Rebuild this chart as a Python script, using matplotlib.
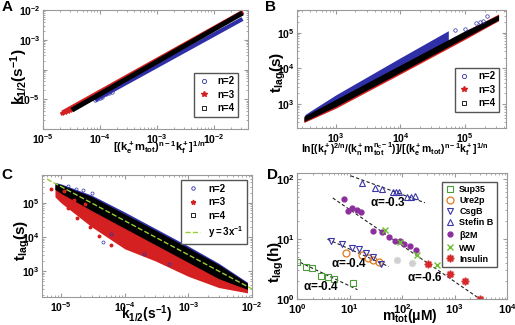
import matplotlib
matplotlib.use('Agg')
import matplotlib.pyplot as plt
from matplotlib.lines import Line2D

plt.rcParams['font.family'] = ['Liberation Sans', 'DejaVu Sans']
plt.rcParams['font.weight'] = 'bold'
plt.rcParams['mathtext.fontset'] = 'custom'
plt.rcParams['mathtext.rm'] = 'Liberation Sans:bold'
plt.rcParams['mathtext.bf'] = 'Liberation Sans:bold'
plt.rcParams['mathtext.it'] = 'Liberation Sans:bold'
plt.rcParams['mathtext.default'] = 'bf'

BLUE = '#2f2fa8'
RED = '#d42020'
BLACK = '#000000'

# ---- panel A: k1/2 vs scaling variable (dense bands)
a_n2_x = [8.2e-5, 3.2e-2]
a_n2_y = [9.4e-6, 5.0e-3]
a_n2_sparse_x = [8.2e-5, 9.0e-5, 1.0e-4, 1.1e-4, 1.3e-4, 1.45e-4, 1.6e-4]
a_n2_sparse_y = [9.4e-6, 1.02e-5, 1.13e-5, 1.23e-5, 1.45e-5, 1.6e-5, 1.77e-5]
a_n3_x = [2.2e-5, 3.3e-2]
a_n3_y = [3.5e-6, 8.6e-3]
a_n3_sparse_x = [2.2e-5, 2.4e-5, 2.7e-5, 3.0e-5]
a_n3_sparse_y = [3.4e-6, 3.6e-6, 4.0e-6, 4.4e-6]
a_n4_x = [3.2e-5, 3.2e-2]
a_n4_y = [4.3e-6, 7.9e-3]

# ---- panel B: t_lag vs scaling variable (band envelopes)
b_x = [3.2e2, 1e3, 1e4, 1e5, 3.3e5]
b_n4_lo = [3.2e2, 8.5e2, 7.8e3, 7.3e4, 2.3e5]
b_n4_hi = [4.5e2, 1.35e3, 1.25e4, 1.15e5, 3.2e5]
b_n3_lo = [3.0e2, 7.6e2, 7.0e3, 6.6e4, 2.2e5]
b_n3_hi = [4.2e2, 1.25e3, 1.15e4, 1.1e5, 3.4e5]
b_n2_x = [3.3e2, 1e3, 1e4, 5.5e4]
b_n2_lo = [3.6e2, 1.0e3, 9.5e3, 5.0e4]
b_n2_hi = [5.0e2, 1.8e3, 2.0e4, 1.15e5]
b_n2_sparse_x = [7e4, 1e5, 1.5e5, 1.7e5, 1.9e5, 2.2e5]
b_n2_sparse_y = [1.2e5, 1.3e5, 1.9e5, 2.0e5, 2.1e5, 2.9e5]

# ---- panel C: t_lag vs k1/2 (band envelopes plus loose points)
c_x = [8e-6, 1e-5, 3e-5, 1e-4, 3e-4, 1e-3, 3e-3, 8.5e-3]
c_n2_lo = [2.5e5, 2.0e5, 7.0e4, 2.0e4, 6.0e3, 1.9e3, 6.5e2, 3.0e2]
c_n2_hi = [4.0e5, 3.6e5, 1.7e5, 5.4e4, 1.8e4, 5.4e3, 1.7e3, 4.7e2]
c_n3_lo = [1.5e5, 1.0e5, 2.0e4, 4.5e3, 2.0e3, 7.0e2, 3.3e2, 2.3e2]
c_n3_hi = [3.0e5, 2.7e5, 1.0e5, 3.0e4, 1.0e4, 3.0e3, 1.0e3, 3.8e2]
c_n4_lo = [2.5e5, 1.9e5, 6.0e4, 1.8e4, 6.0e3, 1.8e3, 6.0e2, 2.9e2]
c_n4_hi = [3.8e5, 3.4e5, 1.55e5, 4.7e4, 1.6e4, 4.8e3, 1.55e3, 4.4e2]
c_n3_pts_x = [7e-6, 9e-6, 1.1e-5, 1.3e-5, 1.6e-5, 2.0e-5, 2.4e-5, 1.2e-5, 1.8e-5, 2.8e-5, 4.0e-5, 6.0e-5]
c_n3_pts_y = [2.6e5, 1.6e5, 2.2e5, 7.0e4, 1.2e5, 5.0e4, 9.0e4, 1.3e5, 3.5e4, 2.0e4, 1.1e4, 6.0e3]
c_n2_pts_x = [1.3e-5, 1.7e-5, 2.2e-5, 3.0e-5, 4.5e-5, 6.0e-5, 2.0e-4, 5.0e-4]
c_n2_pts_y = [3.2e5, 2.6e5, 2.4e5, 2.0e5, 7.0e3, 1.2e4, 3.2e3, 1.6e3]
c_fit_x = [6e-6, 1e-2]
c_fit_y = [5e5, 300]

# ---- panel D: experimental lag times
sup35_m = [1.0, 1.46, 1.89, 2.9, 3.9, 5.0, 11.8]
sup35_t = [4.2, 3.4, 3.25, 2.46, 2.31, 2.14, 1.88]
ure2p_m = [8.6, 17.6, 22.7, 28.0, 36.0]
ure2p_t = [5.9, 5.3, 4.9, 4.5, 4.15]
csgb_m = [4.35, 7.3, 11.3, 15.2, 20.6, 27.9, 39.5]
csgb_t = [9.4, 8.1, 7.1, 6.7, 5.75, 4.95, 3.8]
stefin_m = [17.6, 31.0, 41.0, 67.0, 77.0, 88.0, 125.0, 150.0, 175.0]
stefin_t = [85.0, 71.0, 69.0, 61.0, 61.0, 60.0, 50.0, 49.0, 52.0]
b2m_m = [7.7, 9.2, 11.4, 13.6, 16.4, 27.9, 41.2, 55.7, 72.3, 89.7, 111.0, 144.0, 187.0]
b2m_t = [46.7, 29.3, 33.2, 30.4, 28.1, 13.8, 12.8, 10.6, 9.4, 9.1, 8.1, 7.5, 6.45]
ww_m = [46.9, 92.5, 191.0, 464.0]
ww_t = [14.2, 8.75, 5.5, 3.75]
insulin_m = [315.0, 804.0, 1578.0, 3070.0]
insulin_t = [3.79, 2.59, 1.96, 1.0]
grey_m = [80.0, 158.0]
grey_t = [4.4, 4.0]
fit_sup35 = ([0.92, 14.2], [4.46, 1.43])
fit_csgb = ([3.8, 55.7], [9.9, 3.47])
fit_stefin = ([10.6, 273.0], [112.0, 40.0])
fit_b2m = ([4.8, 3930.0], [48.0, 0.86])


def style_axes(ax, fs=7.5):
    ax.set_xscale('log')
    ax.set_yscale('log')
    for s in ax.spines.values():
        s.set_color('#9a9a9a')
        s.set_linewidth(0.8)
    ax.tick_params(which='both', direction='in', top=True, right=True,
                   color='#9a9a9a', labelsize=fs, pad=2)
    ax.tick_params(which='major', length=3)
    ax.tick_params(which='minor', length=1.5)


fig = plt.figure(figsize=(5.15, 3.25), dpi=100)
W, H = 515.0, 325.0


def box(l, r, t, b):
    return [l / W, 1 - b / H, (r - l) / W, (b - t) / H]


def leg_handles(ms=3):
    return [Line2D([], [], ls='none', marker='o', mfc='none', mec=BLUE, ms=ms, mew=0.6),
            Line2D([], [], ls='none', marker='*', color=RED, ms=ms + 1),
            Line2D([], [], ls='none', marker='s', mfc='none', mec=BLACK, ms=ms, mew=0.6)]


leg_kw = dict(fontsize=7, handlelength=1.2, labelspacing=0.35, borderpad=0.4,
              fancybox=False, edgecolor='#555555', framealpha=1)

# Panel A
axA = fig.add_axes(box(43, 248, 10, 129))
style_axes(axA)
axA.plot(a_n2_x, a_n2_y, color=BLUE, lw=3.0, solid_capstyle='butt')
axA.plot(a_n2_sparse_x, a_n2_sparse_y, ls='none', marker='o', mfc='none', mec=BLUE, ms=2.5, mew=0.5)
axA.plot(a_n3_x, a_n3_y, color=RED, lw=3.4, solid_capstyle='butt')
axA.plot(a_n3_sparse_x, a_n3_sparse_y, ls='none', marker='*', color=RED, ms=3)
axA.plot(a_n4_x, a_n4_y, color=BLACK, lw=3.6, solid_capstyle='butt')
axA.set_xlim(1e-5, 4e-2)
axA.set_ylim(1e-6, 1e-2)
axA.set_yticks([1e-6, 1e-5, 1e-4, 1e-3, 1e-2], ['', r'$10^{-5}$', '', r'$10^{-3}$', r'$10^{-2}$'])
axA.set_xticks([1e-5, 1e-4, 1e-3, 1e-2])
axA.set_ylabel(r'$k_{1/2}(s^{-1})$', fontsize=11)
axA.yaxis.set_label_coords(-0.065, 0.44)
axA.set_xlabel(r'$[(k_e^+m_{tot})^{n-1}k_f^+]^{1/n}$', fontsize=8)
axA.xaxis.set_label_coords(0.566, -0.085)
axA.legend(leg_handles(), ['n=2', 'n=3', 'n=4'], loc='lower right',
           bbox_to_anchor=(0.976, 0.059), **leg_kw)

# Panel B
axB = fig.add_axes(box(297, 506, 10, 128))
style_axes(axB)
axB.fill_between(b_n2_x, b_n2_lo, b_n2_hi, color=BLUE, lw=0)
axB.plot(b_n2_sparse_x, b_n2_sparse_y, ls='none', marker='o', mfc='none', mec=BLUE, ms=2.5, mew=0.5)
axB.fill_between(b_x, b_n3_lo, b_n3_hi, color=RED, lw=0)
axB.fill_between(b_x, b_n4_lo, b_n4_hi, color=BLACK, lw=0)
axB.set_xlim(250, 4.3e5)
axB.set_ylim(210, 4.4e5)
axB.set_xticks([1e3, 1e4, 1e5])
axB.set_yticks([1e3, 1e4, 1e5])
axB.set_ylabel(r'$t_{lag}(s)$', fontsize=11)
axB.yaxis.set_label_coords(-0.045, 0.47)
axB.set_xlabel(r'$ln[(k_f^+)^{2/n}/(k_n^+m_{tot}^{n_c-1})]/[(k_e^+m_{tot})^{n-1}k_f^+]^{1/n}$',
               fontsize=7.5)
axB.xaxis.set_label_coords(0.469, -0.10)
axB.legend(leg_handles(), ['n=2', 'n=3', 'n=4'], loc='lower right',
           bbox_to_anchor=(0.99, 0.093), **leg_kw)

# Panel C
axC = fig.add_axes(box(42, 252, 175, 297))
style_axes(axC)
axC.fill_between(c_x, c_n2_lo, c_n2_hi, color=BLUE, lw=0)
axC.fill_between(c_x, c_n3_lo, c_n3_hi, color=RED, lw=0)
axC.plot(c_n3_pts_x, c_n3_pts_y, ls='none', marker='o', color=RED, ms=1.8)
axC.plot(c_n2_pts_x, c_n2_pts_y, ls='none', marker='o', mfc='none', mec=BLUE, ms=2.2, mew=0.5)
axC.fill_between(c_x, c_n4_lo, c_n4_hi, color=BLACK, lw=0)
axC.plot(c_fit_x, c_fit_y, ls='--', color='#9acd32', lw=1)
axC.set_xlim(5e-6, 1e-2)
axC.set_ylim(174, 6.6e5)
axC.set_xticks([1e-5, 1e-4, 1e-3, 1e-2])
axC.set_yticks([1e3, 1e4, 1e5])
axC.set_ylabel(r'$t_{lag}(s)$', fontsize=11)
axC.yaxis.set_label_coords(-0.05, 0.46)
axC.set_xlabel(r'$k_{1/2}(s^{-1})$', fontsize=10)
axC.xaxis.set_label_coords(0.5, -0.05)
hC = [Line2D([], [], ls='none', marker='o', mfc='none', mec=BLUE, ms=2.5, mew=0.6),
      Line2D([], [], ls='none', marker='*', color=RED, ms=3.5),
      Line2D([], [], ls='none', marker='s', mfc='none', mec=BLACK, ms=2.5, mew=0.6),
      Line2D([], [], ls='--', color='#9acd32', lw=1)]
axC.legend(hC, ['n=2', 'n=3', 'n=4', r'$y=3x^{-1}$'], loc='upper right',
           bbox_to_anchor=(1.0, 1.0), **dict(leg_kw, handlelength=1.6))

# Panel D
axD = fig.add_axes(box(297, 507, 173, 299))
style_axes(axD, fs=8)
for fx, fy in (fit_sup35, fit_csgb, fit_stefin, fit_b2m):
    axD.plot(fx, fy, ls='--', color='#222222', lw=0.8, dashes=(3, 2))
axD.plot(grey_m, grey_t, ls='none', marker=(8, 1, 0), color='#d0d0d0', ms=5)
axD.plot(sup35_m, sup35_t, ls='none', marker='s', mfc='none', mec='#4c9a3c', ms=4, mew=0.8, label='Sup35')
axD.plot(ure2p_m, ure2p_t, ls='none', marker='o', mfc='none', mec='#e07a1f', ms=5, mew=0.9, label='Ure2p')
axD.plot(csgb_m, csgb_t, ls='none', marker='v', mfc='none', mec='#3a36a8', ms=5, mew=0.8, label='CsgB')
axD.plot(stefin_m, stefin_t, ls='none', marker='^', mfc='none', mec='#3a36a8', ms=5, mew=0.8, label='Stefin B')
axD.plot(b2m_m, b2m_t, ls='none', marker='o', color='#8b2f9c', ms=3.5, label=r'$\beta$2M')
axD.plot(ww_m, ww_t, ls='none', marker='x', color='#6cbf2e', ms=5, mew=1, label='WW')
axD.plot(insulin_m, insulin_t, ls='none', marker=(8, 1, 0), color='#d42a2a', ms=5.5, label='Insulin')
axD.set_xlim(1, 1e4)
axD.set_ylim(1, 125)
axD.set_xticks([1, 10, 100, 1000, 10000])
axD.set_yticks([1, 10, 100])
axD.set_ylabel(r'$t_{lag}(h)$', fontsize=11)
axD.yaxis.set_label_coords(-0.05, 0.29)
axD.set_xlabel(r'$m_{tot}(\mu M)$', fontsize=10)
axD.xaxis.set_label_coords(0.54, -0.063)
axD.text(53, 40, r'$\alpha$=-0.3', fontsize=8.5, ha='center', va='center')
axD.text(10, 3.9, r'$\alpha$=-0.4', fontsize=8.5, ha='center', va='center')
axD.text(2.9, 1.64, r'$\alpha$=-0.4', fontsize=8.5, ha='center', va='center')
axD.text(275, 2.28, r'$\alpha$=-0.6', fontsize=8.5, ha='center', va='center')
axD.legend(loc='upper right', bbox_to_anchor=(0.972, 0.968), fontsize=6.5,
           handlelength=1.0, labelspacing=0.22, borderpad=0.35, handletextpad=0.5,
           fancybox=False, edgecolor='#555555', framealpha=1)

for lbl, x, y in (('A', 7, 7), ('B', 270, 7), ('C', 7, 175), ('D', 272, 175)):
    fig.text(x / W, 1 - y / H, lbl, fontsize=11, fontweight='bold', ha='center', va='center')

fig.savefig('out.png', dpi=100)
